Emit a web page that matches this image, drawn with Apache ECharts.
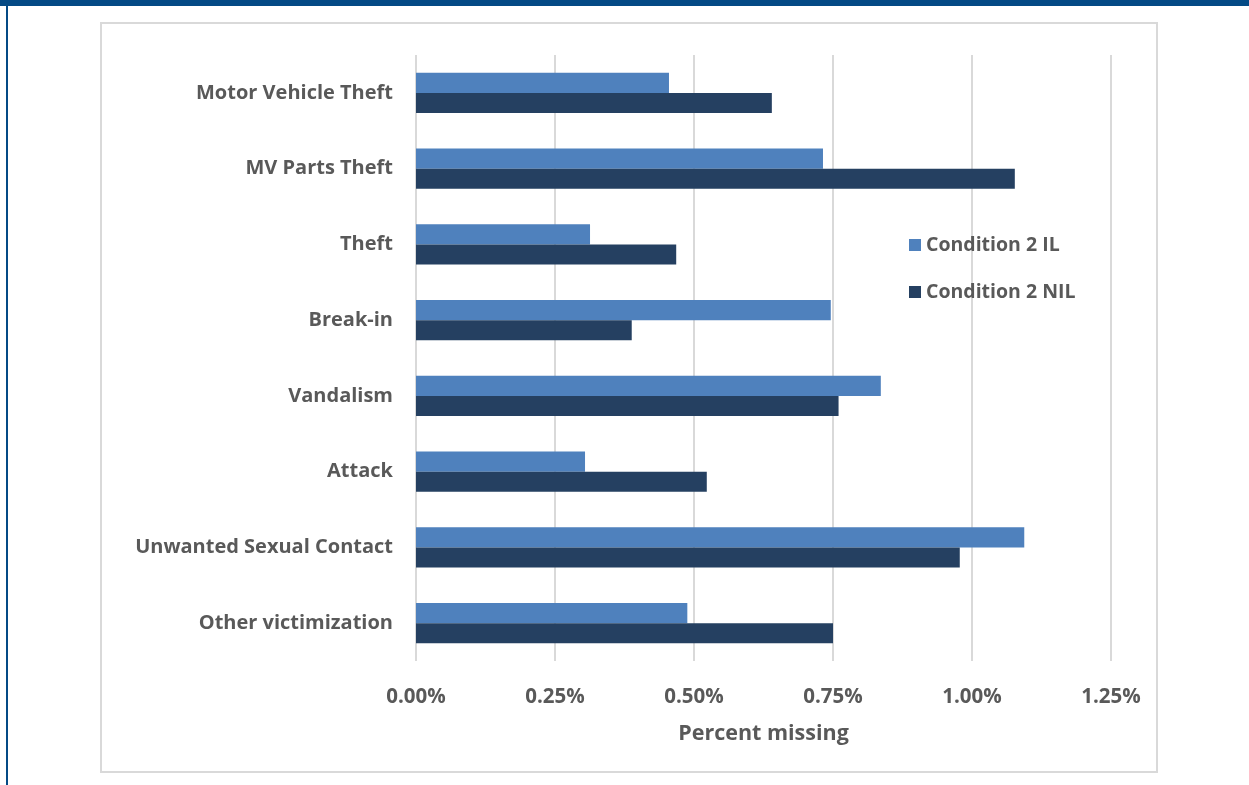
<!DOCTYPE html>
<html>
<head>
<meta charset="utf-8">
<script src="https://cdn.jsdelivr.net/npm/echarts@6/dist/echarts.min.js"></script>
<style>
html,body{margin:0;padding:0;background:#fff;}
#c{width:1249px;height:785px;}
</style>
</head>
<body>
<div id="c"></div>
<script>
const categories = ["Motor Vehicle Theft","MV Parts Theft","Theft","Break-in","Vandalism","Attack","Unwanted Sexual Contact","Other victimization"];
const seriesNames = ["Condition 2 IL","Condition 2 NIL"];
const valuesIL  = [0.455, 0.732, 0.313, 0.746, 0.836, 0.304, 1.094, 0.488];
const valuesNIL = [0.640, 1.077, 0.468, 0.388, 0.760, 0.523, 0.978, 0.750];
const xTicks = {min: 0, max: 1.25, interval: 0.25};
const xTitle = "Percent missing";

const FONT = "Open Sans";
const TXT = "#595959";
const chart = echarts.init(document.getElementById('c'), null, {renderer: 'canvas'});
chart.setOption({
  animation: false,
  backgroundColor: '#fff',
  textStyle: {fontFamily: FONT},
  graphic: [
    {type: 'rect', shape: {x: 0, y: 0, width: 1249, height: 6}, style: {fill: '#044a85'}, z: 100},
    {type: 'rect', shape: {x: 6, y: 0, width: 2, height: 785}, style: {fill: '#044a85'}, z: 100},
    {type: 'rect', shape: {x: 101, y: 23, width: 1056, height: 749}, style: {fill: 'none', stroke: '#d9d9d9', lineWidth: 2}, z: -1}
  ],
  grid: {left: 416, top: 55, right: 138, bottom: 124, containLabel: false},
  legend: {
    orient: 'vertical', left: 904, top: 230,
    itemWidth: 12, itemHeight: 12, itemGap: 27, icon: 'rect',
    textStyle: {fontFamily: FONT, fontSize: 19.5, fontWeight: 'bold', color: TXT},
    data: seriesNames
  },
  xAxis: {
    type: 'value', min: xTicks.min, max: xTicks.max, interval: xTicks.interval,
    name: xTitle, nameLocation: 'middle', nameGap: 62,
    nameTextStyle: {fontFamily: FONT, fontSize: 21.5, fontWeight: 'bold', color: TXT},
    axisLine: {show: false}, axisTick: {show: false},
    axisLabel: {margin: 26, fontFamily: FONT, fontSize: 20.5, fontWeight: 'bold', color: TXT,
      formatter: v => v.toFixed(2) + '%'},
    splitLine: {show: true, lineStyle: {color: '#d9d9d9', width: 2}}
  },
  yAxis: {
    type: 'category', data: categories, inverse: true,
    axisLine: {show: false}, axisTick: {show: false},
    axisLabel: {margin: 23, fontFamily: FONT, fontSize: 20, fontWeight: 'bold', color: TXT}
  },
  series: [
    {name: seriesNames[0], type: 'bar', data: valuesIL, barGap: '0%', barCategoryGap: '47%',
      itemStyle: {color: '#4f81bd'}},
    {name: seriesNames[1], type: 'bar', data: valuesNIL, barGap: '0%', barCategoryGap: '47%',
      itemStyle: {color: '#254061'}}
  ]
});
</script>
</body>
</html>
